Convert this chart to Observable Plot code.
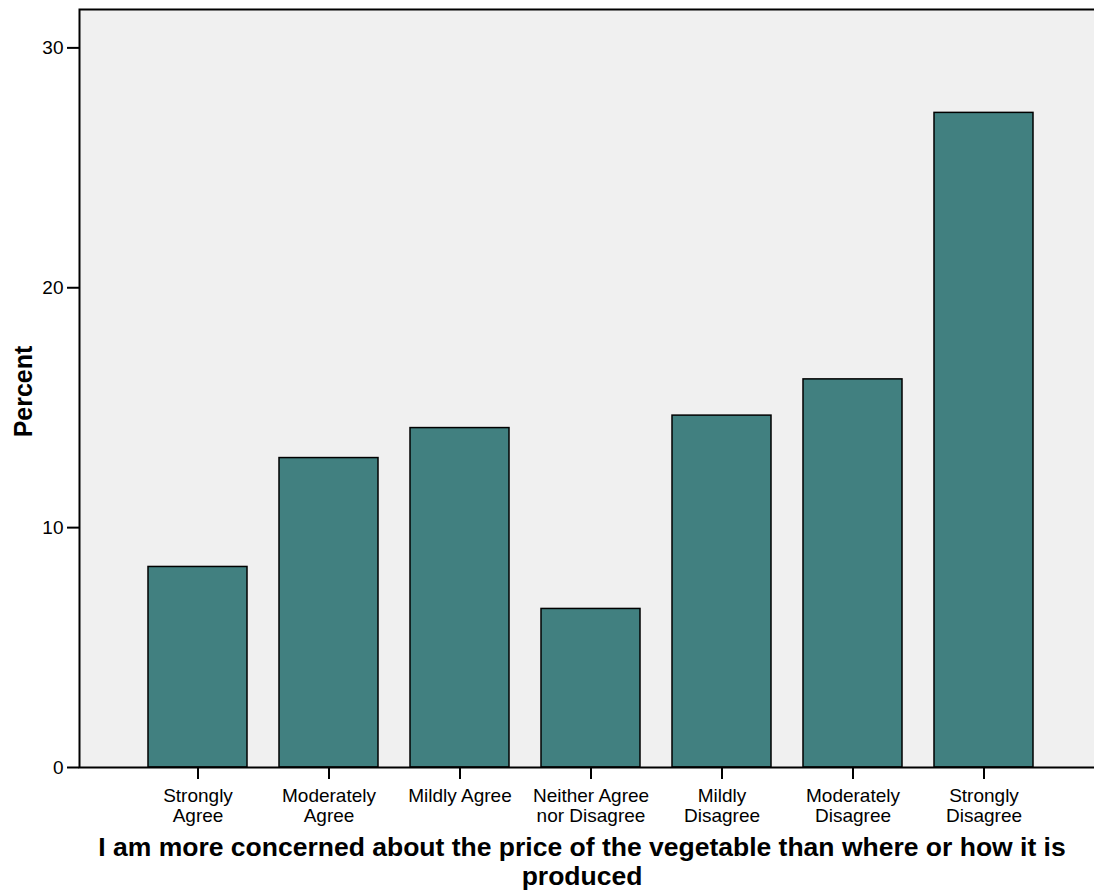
<!DOCTYPE html>
<html>
<head>
<meta charset="utf-8">
<script src="https://cdn.jsdelivr.net/npm/d3@7"></script>
<script src="https://cdn.jsdelivr.net/npm/@observablehq/plot@0.6"></script>
<style>
  html, body { margin: 0; padding: 0; background: #ffffff; }
  #chart svg { display: block; }
</style>
</head>
<body>
<div id="chart"></div>
<script>
const categories = ["Strongly Agree", "Moderately Agree", "Mildly Agree", "Neither Agree nor Disagree", "Mildly Disagree", "Moderately Disagree", "Strongly Disagree"];
const tickLabels = ["Strongly\nAgree", "Moderately\nAgree", "Mildly Agree", "Neither Agree\nnor Disagree", "Mildly\nDisagree", "Moderately\nDisagree", "Strongly\nDisagree"];
const percents = [8.36, 12.9, 14.15, 6.61, 14.67, 16.18, 27.29];
const yTicks = [0, 10, 20, 30];
const xTitle = "I am more concerned about the price of the vegetable than where or how it is\nproduced";
const yTitle = "Percent";

const data = categories.map((c, i) => ({cat: c, label: tickLabels[i], pct: percents[i]}));
const font = "Arial, 'Liberation Sans', Helvetica, sans-serif";

const chart = Plot.plot({
  width: 1094,
  height: 890,
  marginLeft: 79,
  marginRight: 0,
  marginTop: 9,
  marginBottom: 123,
  style: {fontFamily: font, fontSize: "19px", color: "#000", background: "#fff"},
  x: {domain: categories, paddingInner: 0.247, paddingOuter: 0.1235, insetLeft: 51, insetRight: 43, label: null},
  y: {domain: [0, 31.6], label: null},
  marks: [
    Plot.frame({fill: "#f0f0f0"}),
    Plot.barY(data, {x: "cat", y: "pct", fill: "#418080", stroke: "#000", strokeWidth: 1.5}),
    Plot.frame({stroke: "#000", strokeWidth: 2, insetRight: -5}),
    Plot.axisY({ticks: yTicks, tickSize: 12, tickPadding: 4, strokeWidth: 2, fontSize: 19, label: null}),
    Plot.axisX({tickSize: 12, tickFormat: () => "", strokeWidth: 2, label: null}),
    Plot.text(data, {x: "cat", text: "label", frameAnchor: "bottom", lineAnchor: "top", dy: 20, fontSize: 19, lineHeight: 1.05}),
    Plot.text([xTitle], {text: d => d, frameAnchor: "bottom", textAnchor: "middle", lineAnchor: "top", dy: 69, dx: -5, fontSize: 26.5, fontWeight: "bold", lineHeight: 1.06}),
    Plot.text([yTitle], {text: d => d, frameAnchor: "left", textAnchor: "middle", dx: -56, dy: 3, rotate: -90, fontSize: 25, fontWeight: "bold"})
  ]
});
document.getElementById("chart").appendChild(chart);
</script>
</body>
</html>
